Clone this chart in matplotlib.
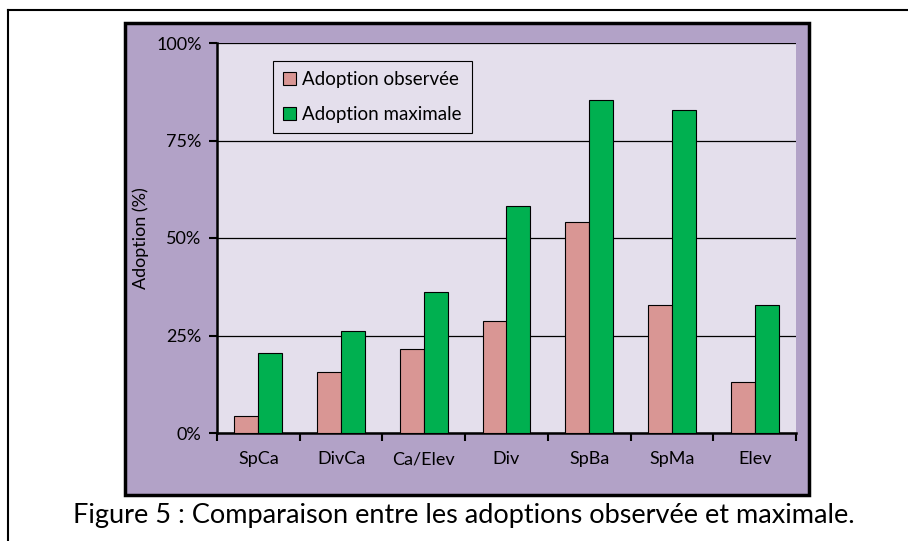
import numpy as np
import matplotlib
matplotlib.use("Agg")
import matplotlib.pyplot as plt
from matplotlib.patches import Rectangle
from matplotlib.lines import Line2D

plt.rcParams['font.family'] = ['Lato', 'DejaVu Sans']

# data
categories = ['SpCa', 'DivCa', 'Ca/Elev', 'Div', 'SpBa', 'SpMa', 'Elev']
observed = [4.4, 15.7, 21.5, 28.8, 54.0, 32.8, 13.2]
maximal = [20.6, 26.2, 36.2, 58.3, 85.4, 82.8, 32.8]
yticks = [0, 25, 50, 75, 100]
ytick_labels = ['0%', '25%', '50%', '75%', '100%']
series_names = ['Adoption observée', 'Adoption maximale']
caption = 'Figure 5 : Comparaison entre les adoptions observée et maximale.'

W, H = 908, 541
fig = plt.figure(figsize=(W / 100, H / 100), dpi=100)

# outer frame (left and top only visible)
fig.add_artist(Line2D([8 / W, 8 / W], [0, 1 - 10 / H], transform=fig.transFigure,
                      color='black', lw=1.5))
fig.add_artist(Line2D([8 / W, 1], [1 - 10 / H, 1 - 10 / H], transform=fig.transFigure,
                      color='black', lw=1.5))

# purple chart area
fig.add_artist(Rectangle((125 / W, 1 - 495 / H), 684 / W, 472 / H,
                         transform=fig.transFigure, facecolor='#B2A2C7',
                         edgecolor='black', lw=2.5, zorder=0))

ax = fig.add_axes([217 / W, 1 - 433 / H, 579 / W, 390 / H])
ax.set_facecolor('#E4DFEC')

x = np.arange(len(categories))
w = 0.29
ax.bar(x - w / 2, observed, w, color='#D99694', edgecolor='black', lw=0.8,
       label=series_names[0], zorder=3)
ax.bar(x + w / 2, maximal, w, color='#00B050', edgecolor='black', lw=0.8,
       label=series_names[1], zorder=3)

ax.set_xlim(-0.5, len(categories) - 0.5)
ax.set_ylim(0, 100)
ax.set_yticks(yticks)
ax.set_yticklabels(ytick_labels, fontsize=13)
ax.set_xticks(x)
ax.set_xticklabels(categories, fontsize=13)
ax.set_xticks(np.arange(len(categories) + 1) - 0.5, minor=True)
ax.tick_params(axis='x', which='major', length=0, pad=13)
ax.tick_params(axis='x', which='minor', length=6, width=1.5, direction='out')
ax.tick_params(axis='y', length=6, width=1.5, direction='out', pad=5)

ax.grid(axis='y', color='black', lw=0.9, zorder=1)
ax.set_axisbelow(True)
for s in ['top', 'right']:
    ax.spines[s].set_visible(False)
for s in ['left', 'bottom']:
    ax.spines[s].set_linewidth(1.8)

ax.set_ylabel('Adoption (%)', fontsize=13)
ax.yaxis.set_label_coords(-0.117, 0.5)

leg = ax.legend(loc='upper left', bbox_to_anchor=(273 / W, 1 - 61 / H),
                bbox_transform=fig.transFigure, borderaxespad=0,
                fancybox=False, edgecolor='black', facecolor='#E4DFEC',
                framealpha=1, fontsize=13.5, handlelength=0.7, handleheight=0.7,
                handletextpad=0.3, labelspacing=0.95, borderpad=0.55)
leg.get_frame().set_linewidth(0.8)

fig.text(464 / W, 1 - 515 / H, caption, ha='center', va='center', fontsize=19.5)

fig.savefig('out.png', dpi=100)
